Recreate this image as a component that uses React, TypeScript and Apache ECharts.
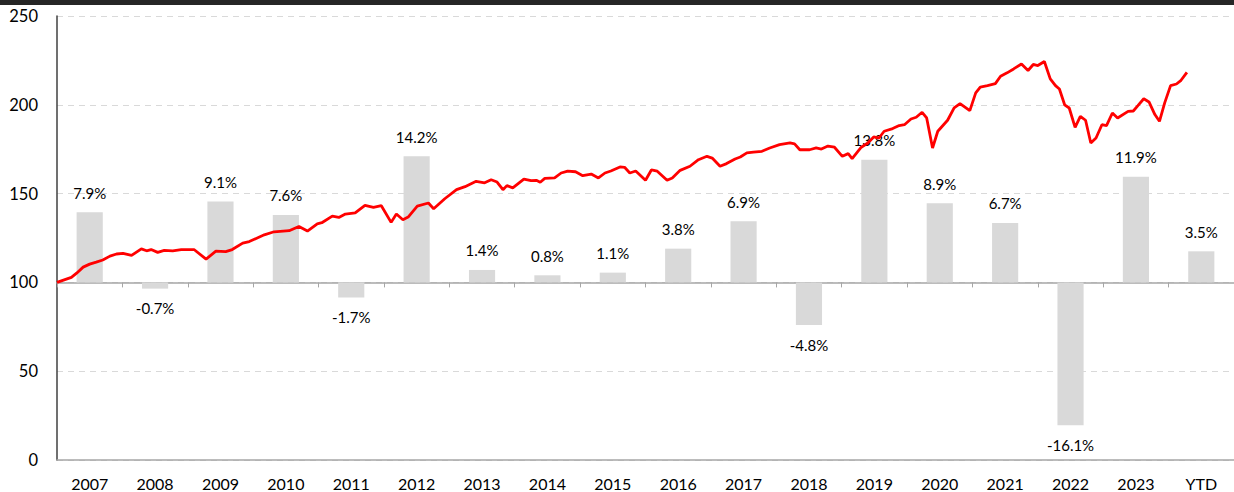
import React, { useEffect, useRef } from "react";
import * as echarts from "echarts";

const categories = ["2007","2008","2009","2010","2011","2012","2013","2014","2015","2016","2017","2018","2019","2020","2021","2022","2023","YTD"];
const annualReturns = [7.9, -0.7, 9.1, 7.6, -1.7, 14.2, 1.4, 0.8, 1.1, 3.8, 6.9, -4.8, 13.8, 8.9, 6.7, -16.1, 11.9, 3.5];
const yTicks = [0, 50, 100, 150, 200, 250];

// index line: [years since start of 2007, index value]
const indexLine: [number, number][] = [
  [0.00,100],[0.22,102.8],[0.30,105.2],[0.40,108.6],[0.50,110.3],[0.60,111.4],[0.70,112.6],[0.81,114.8],[0.91,116.0],
  [1.01,116.3],[1.14,115.2],[1.29,118.9],[1.37,117.8],[1.44,118.5],[1.54,116.9],[1.64,118.0],[1.77,117.8],[1.90,118.4],
  [2.10,118.4],[2.28,113.1],[2.43,117.6],[2.58,117.3],[2.68,118.5],[2.84,122.1],[2.94,123.0],
  [3.17,126.8],[3.32,128.5],[3.55,129.1],[3.70,131.5],[3.83,128.9],[3.98,133.0],[4.05,133.6],[4.21,137.3],[4.31,136.6],
  [4.41,138.5],[4.56,139.1],[4.71,143.4],[4.84,142.3],[4.96,143.2],[5.11,133.8],[5.19,138.5],[5.29,135.3],[5.37,136.8],
  [5.51,143.0],[5.68,144.7],[5.76,141.5],[5.93,147.1],
  [6.11,152.2],[6.24,153.9],[6.41,156.9],[6.54,156.1],[6.64,157.8],[6.73,156.5],[6.82,152.2],[6.88,154.5],[6.97,153.2],
  [7.14,158.2],[7.25,157.3],[7.33,157.5],[7.39,156.4],[7.46,158.6],[7.61,158.8],[7.71,161.6],[7.81,162.7],[7.93,162.3],
  [8.04,160.1],[8.17,161.0],[8.28,158.8],[8.38,161.6],[8.47,162.7],[8.61,165.0],[8.68,164.8],[8.76,161.6],[8.85,162.7],
  [9.00,157.5],[9.09,163.3],[9.18,162.6],[9.33,157.5],[9.41,158.8],[9.53,163.1],[9.68,165.4],[9.81,169.1],[9.94,171.0],
  [10.02,170.0],[10.14,165.4],[10.24,166.9],[10.37,169.5],[10.45,170.6],[10.55,172.9],[10.65,173.4],[10.78,173.8],[10.90,175.7],
  [11.05,177.6],[11.21,178.5],[11.28,178.0],[11.36,174.7],[11.51,174.7],[11.61,175.7],[11.69,175.1],[11.79,176.8],[11.89,176.1],
  [12.01,171.0],[12.10,172.5],[12.16,169.7],[12.30,176.1],[12.40,178.5],[12.49,181.9],[12.57,181.3],[12.65,185.1],[12.78,186.6],
  [12.88,188.3],[12.96,188.8],[13.06,192.0],[13.14,193.0],[13.23,195.8],[13.30,192.6],[13.39,175.7],[13.47,185.1],[13.62,191.3],
  [13.72,198.3],[13.81,200.7],[13.96,196.7],[14.05,206.7],[14.12,210.0],[14.23,210.8],[14.35,211.9],[14.43,216.1],[14.53,218.0],
  [14.63,220.2],[14.75,223.0],[14.85,219.3],[14.93,222.7],[15.00,222.1],[15.10,224.4],[15.19,214.6],[15.27,210.8],[15.33,208.9],
  [15.41,200.0],[15.48,198.2],[15.57,187.3],[15.65,193.5],[15.73,191.3],[15.81,178.5],[15.89,181.3],[15.98,188.8],[16.05,188.3],
  [16.14,195.4],[16.22,192.6],[16.38,196.3],[16.46,196.5],[16.53,199.5],[16.62,203.4],[16.70,201.6],[16.79,194.5],[16.86,190.7],
  [16.94,201.1],[17.03,210.8],[17.12,211.7],[17.19,213.8],[17.28,218.3]
];

const FONT = "Lato, 'Noto Sans', sans-serif";

export default function App() {
  const ref = useRef<HTMLDivElement>(null);
  useEffect(() => {
    if (!ref.current) return;
    const chart = echarts.init(ref.current, null, { renderer: "svg" });
    const barData = annualReturns.map((v) => ({
      value: v,
      label: { position: v >= 0 ? "top" : "bottom" },
    }));
    chart.setOption({
      animation: false,
      backgroundColor: "#ffffff",
      textStyle: { fontFamily: FONT },
      graphic: [
        { type: "rect", left: 0, top: 0, shape: { width: 1234, height: 5 }, style: { fill: "#262626" }, z: 100 },
      ],
      grid: { left: 57, top: 16, right: -6, bottom: 32, containLabel: false },
      xAxis: [
        {
          type: "category",
          data: categories,
          position: "bottom",
          axisLine: { show: true, onZero: false, lineStyle: { color: "#a6a6a6", width: 1.5 } },
          axisTick: { show: false },
          axisLabel: { interval: 0, color: "#000", fontSize: 16, fontFamily: FONT, margin: 15 },
          splitLine: { show: false },
        },
        {
          type: "category",
          data: categories,
          position: "bottom",
          axisLine: { show: true, onZero: true, onZeroAxisIndex: 1, lineStyle: { color: "#a6a6a6", width: 1.5 } },
          axisTick: { show: true, length: 5, lineStyle: { color: "#a6a6a6", width: 1 } },
          axisLabel: { show: false },
          splitLine: { show: false },
        },
        { type: "value", min: 0, max: 18, show: false },
      ],
      yAxis: [
        {
          type: "value",
          min: 0,
          max: 250,
          interval: 50,
          axisLine: { show: true, lineStyle: { color: "#404040", width: 1.5 } },
          axisTick: { show: false },
          axisLabel: { color: "#000", fontSize: 16.5, fontFamily: FONT, margin: 19, formatter: (v: number) => (yTicks.includes(v) ? String(v) : "") },
          splitLine: { show: true, lineStyle: { color: "#d9d9d9", type: [6, 5], width: 1 } },
        },
        { type: "value", min: -20, max: 30, show: false, splitLine: { show: false } },
      ],
      series: [
        {
          type: "bar",
          xAxisIndex: 1,
          yAxisIndex: 1,
          data: barData,
          barWidth: "40%",
          itemStyle: { color: "#d9d9d9" },
          label: {
            show: true,
            distance: 12,
            color: "#000",
            fontSize: 15,
            fontFamily: FONT,
            formatter: (p: any) => p.value.toFixed(1) + "%",
          },
          z: 2,
        },
        {
          type: "line",
          xAxisIndex: 2,
          yAxisIndex: 0,
          data: indexLine,
          showSymbol: false,
          symbol: "none",
          lineStyle: { color: "#ff0000", width: 2.8 },
          z: 5,
        },
      ],
    });
    return () => chart.dispose();
  }, []);
  return <div ref={ref} style={{ position: "fixed", left: 0, top: 0, width: 1234, height: 492 }} />;
}
